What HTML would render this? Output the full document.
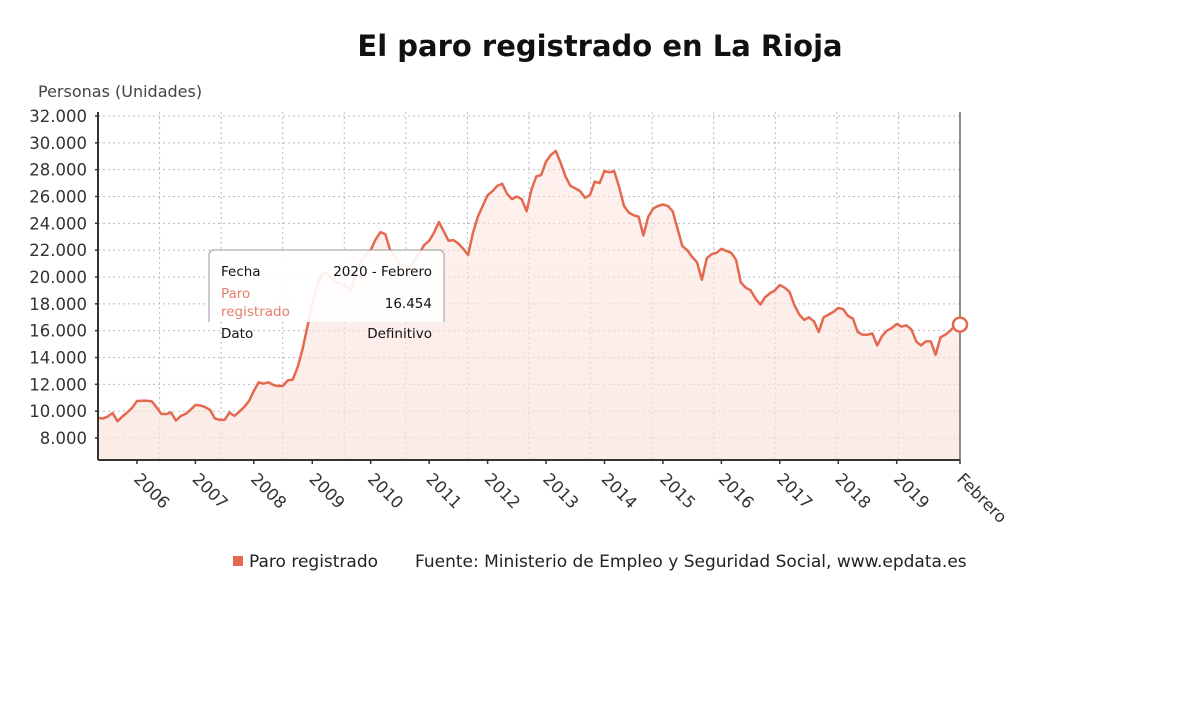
<!DOCTYPE html>
<html><head><meta charset="utf-8"><style>
body{margin:0;background:#fff;width:1200px;height:705px;overflow:hidden;font-family:"DejaVu Sans","Liberation Sans",sans-serif}
svg text{font-family:"DejaVu Sans","Liberation Sans",sans-serif}
</style></head><body>
<svg id="chart" width="1200" height="705" viewBox="0 0 1200 705">
<defs><linearGradient id="fillg" x1="0" y1="0" x2="0" y2="1"><stop offset="0" stop-color="#fbe3dd" stop-opacity="0.5"/><stop offset="1" stop-color="#fbe3dd" stop-opacity="0.7"/></linearGradient></defs>
<text x="600" y="56" text-anchor="middle" font-size="29" font-weight="bold" fill="#111">El paro registrado en La Rioja</text>
<text x="38" y="97" font-size="16" fill="#444">Personas (Unidades)</text>
<g id="grid"></g>
<g id="plot"></g>
<g id="axes"></g>
<g>
<path d="M209 322 V255 a5 5 0 0 1 5 -5 H439 a5 5 0 0 1 5 5 V322" fill="rgba(255,255,255,0.9)" stroke="#999" stroke-width="1"/>
<text x="221" y="276" font-size="13.5" fill="#111">Fecha</text>
<text x="432" y="276" font-size="13.5" fill="#111" text-anchor="end">2020 - Febrero</text>
<text x="221" y="298" font-size="13.5" fill="#e4806a">Paro</text>
<text x="221" y="316" font-size="13.5" fill="#e4806a">registrado</text>
<text x="432" y="308" font-size="13.5" fill="#111" text-anchor="end">16.454</text>
<text x="221" y="338" font-size="13.5" fill="#111">Dato</text>
<text x="432" y="338" font-size="13.5" fill="#111" text-anchor="end">Definitivo</text>
</g>
<g>
<rect x="233" y="556" width="10" height="10" fill="#e4694f"/>
<text x="249" y="567" font-size="17" fill="#222">Paro registrado</text>
<text x="415" y="567" font-size="17" fill="#222">Fuente: Ministerio de Empleo y Seguridad Social, www.epdata.es</text>
</g>
</svg>
<script>
const yTicks=[8000,10000,12000,14000,16000,18000,20000,22000,24000,26000,28000,30000,32000];
const yTickLabels=["8.000","10.000","12.000","14.000","16.000","18.000","20.000","22.000","24.000","26.000","28.000","30.000","32.000"];
const yearLabels=["2006","2007","2008","2009","2010","2011","2012","2013","2014","2015","2016","2017","2018","2019"];
const startMonth={year:2005,month:5};
const values=[9500,9450,9600,9860,9250,9600,9900,10250,10760,10780,10770,10740,10300,9800,9780,9900,9300,9650,9800,10100,10460,10420,10300,10100,9450,9350,9350,9900,9650,9950,10300,10750,11500,12150,12050,12150,11950,11870,11900,12300,12350,13300,14600,16300,18000,19400,20200,20300,19900,19600,19500,19300,19000,20300,21200,21700,22000,22800,23350,23200,22000,21500,21000,20800,20600,21300,21800,22400,22700,23300,24100,23400,22700,22750,22500,22100,21650,23300,24500,25300,26100,26400,26800,26950,26200,25800,26000,25800,24900,26500,27500,27600,28600,29100,29400,28500,27500,26800,26600,26400,25900,26100,27100,27000,27900,27800,27900,26700,25300,24800,24600,24500,23100,24500,25100,25300,25400,25300,24900,23600,22300,22000,21500,21100,19800,21400,21700,21800,22100,21950,21800,21300,19600,19200,19000,18400,17950,18500,18800,19000,19400,19200,18900,17900,17200,16800,17000,16700,15900,17000,17200,17400,17700,17600,17100,16900,15900,15700,15700,15800,14900,15600,16000,16200,16500,16300,16400,16100,15200,14900,15200,15200,14200,15500,15700,16000,16400,16454];
const NS="http://www.w3.org/2000/svg";
const X0=98,X1=960,YB=460;
const n=values.length;
function xs(i){return X0+(X1-X0)*i/(n-1);}
function ys(v){return 438-(v-8000)*(322/24000);}
function mk(t,a,p){const e=document.createElementNS(NS,t);for(const k in a)e.setAttribute(k,a[k]);p.appendChild(e);return e;}
const grid=document.getElementById('grid'),plot=document.getElementById('plot'),axes=document.getElementById('axes');
yTicks.forEach((t,k)=>{
 const y=ys(t);
 const l=mk('line',{x1:X0,x2:X1,y1:y,y2:y,stroke:'#bbb','stroke-dasharray':'2,3','stroke-width':1},grid);
 
 
 const tx=mk('text',{x:87,y:y+6,'text-anchor':'end','font-size':16.5,fill:'#333'},axes);
 tx.textContent=yTickLabels[k];
 
 
 mk('line',{x1:X0-3,x2:X0,y1:y,y2:y,stroke:'#333','stroke-width':1.5},axes);
});
for(let k=1;k<14;k++){
 const x=X0+(X1-X0)*k/14;
 const l=mk('line',{x1:x,x2:x,y1:112,y2:YB,stroke:'#bbb','stroke-dasharray':'2,3','stroke-width':1},grid);
 
 
}
yearLabels.forEach((yr,k)=>{
 const i=(parseInt(yr)-startMonth.year)*12+(1-startMonth.month);
 const x=xs(i);
 mk('line',{x1:x,x2:x,y1:YB,y2:YB+4,stroke:'#333','stroke-width':1.5},axes);
 const t=mk('text',{x:x-4,y:YB+20,'font-size':16.5,fill:'#333',transform:`rotate(45 ${x-4} ${YB+20})`},axes);
 t.textContent=yr;
 
 
});
{const x=xs(n-1);
 mk('line',{x1:x,x2:x,y1:YB,y2:YB+4,stroke:'#333','stroke-width':1.5},axes);
 const t=mk('text',{x:x-4,y:YB+20,'font-size':16.5,fill:'#333',transform:`rotate(45 ${x-4} ${YB+20})`},axes);
 t.textContent='Febrero';
 
 }
let d='';values.forEach((v,i)=>{d+=(i?'L':'M')+xs(i).toFixed(1)+' '+ys(v).toFixed(1);});
const area=mk('path',{d:d+`L${xs(n-1)} ${YB}L${xs(0)} ${YB}Z`,fill:'url(#fillg)'},plot);


const line=mk('path',{d:d,fill:'none',stroke:'#e4694f','stroke-width':2.5,'stroke-linejoin':'round'},plot);


const la=mk('line',{x1:X0,x2:X0,y1:112,y2:YB,stroke:'#333','stroke-width':2},axes);


const ra=mk('line',{x1:X1,x2:X1,y1:112,y2:YB,stroke:'#666','stroke-width':1.5},axes);


const ba=mk('line',{x1:X0,x2:X1,y1:YB,y2:YB,stroke:'#333','stroke-width':2},axes);


const m=mk('circle',{cx:xs(n-1),cy:ys(values[n-1]),r:7,fill:'#fff',stroke:'#e4694f','stroke-width':2.5},axes);


</script>
</body></html>
